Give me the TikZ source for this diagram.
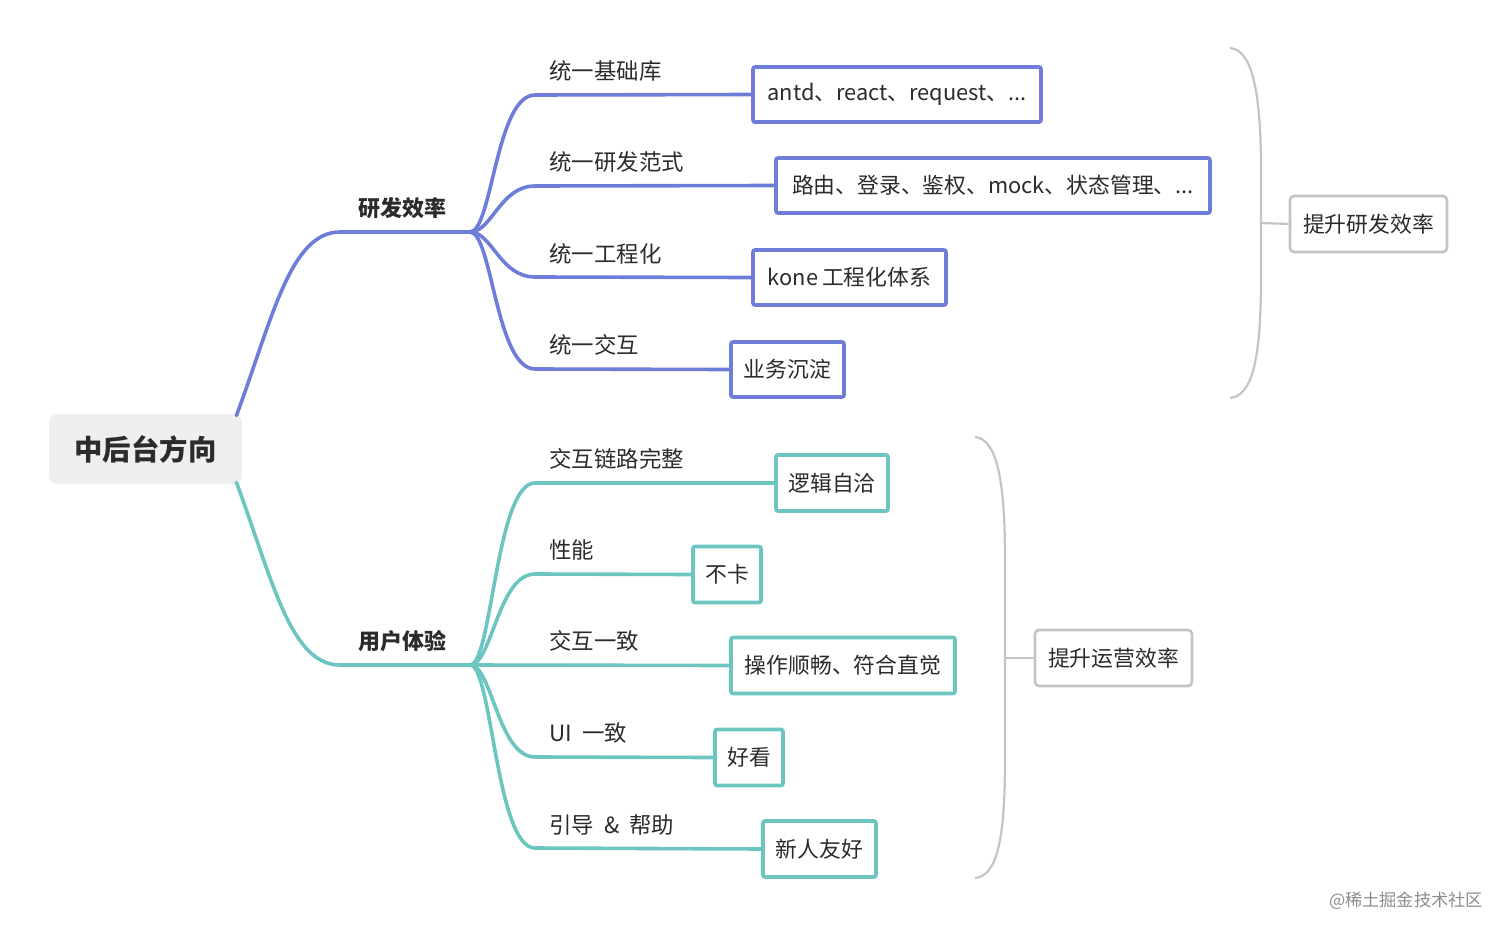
\documentclass[tikz,border=0pt]{standalone}
\usepackage{fontspec}
\setmainfont{Noto Sans CJK SC}
\definecolor{bluec}{HTML}{6F7DDA}
\definecolor{tealc}{HTML}{6CC5C0}
\definecolor{brk}{HTML}{C4C4C4}
\definecolor{rootfill}{HTML}{EFEFEF}
\definecolor{txt}{HTML}{2B2B2B}
\tikzset{
  bline/.style={draw=bluec, line width=1.8pt, line cap=round},
  tline/.style={draw=tealc, line width=1.8pt, line cap=round},
  bbox/.style={draw=bluec, line width=1.8pt, fill=white, rounded corners=1pt, inner sep=0pt, minimum height=27.5pt, font=\fontsize{10.9pt}{12pt}\selectfont, text=txt},
  tbox/.style={draw=tealc, line width=1.8pt, fill=white, rounded corners=1pt, inner sep=0pt, minimum height=28pt, font=\fontsize{10.9pt}{12pt}\selectfont, text=txt},
  gbox/.style={draw=brk, line width=1.3pt, fill=white, rounded corners=2pt, inner sep=0pt, minimum height=28pt, minimum width=78.5pt, font=\fontsize{10.9pt}{12pt}\selectfont, text=txt},
  lbl/.style={anchor=west, inner sep=0pt, font=\fontsize{11.2pt}{12pt}\selectfont, text=txt},
  brlbl/.style={inner sep=0pt, font=\fontsize{11pt}{12pt}\selectfont\bfseries, text=txt},
  brkline/.style={draw=brk, line width=1.1pt},
}
\begin{document}
\begin{tikzpicture}[x=0.5pt, y=-0.5pt]
\useasboundingbox (0,0) rectangle (1512,937);
% root
\node[fill=rootfill, rounded corners=4pt, minimum width=96.5pt, minimum height=35pt, inner sep=0pt, font=\fontsize{14.2pt}{16pt}\selectfont\bfseries, text=txt] (root) at (145.5,449) {中后台方向};
% hubs
\coordinate (hubA) at (470,232);
\coordinate (hubB) at (470,665);
\node[brlbl] (labA) at (402,208) {研发效率};
\node[brlbl] (labB) at (402,641) {用户体验};
\draw[bline] ([xshift=-3pt,yshift=-1pt]root.north east) .. controls (272,320) and (290,232) .. (340,232) -- (hubA);
\draw[tline] ([xshift=-3pt,yshift=1pt]root.south east) .. controls (272,578) and (290,665) .. (340,665) -- (hubB);
% blue children
\node[bbox, minimum width=144pt] (b1) at (897,94.5) {antd、react、request、...};
\node[bbox, minimum width=217pt] (b2) at (993,185.5) {路由、登录、鉴权、mock、状态管理、...};
\node[bbox, minimum width=96.5pt] (b3) at (849.5,277.5) {kone\hspace{2pt}工程化体系};
\node[bbox, minimum width=56.5pt] (b4) at (787.5,369.5) {业务沉淀};
\node[lbl] (lb1) at (549,71) {统一基础库};
\node[lbl] (lb2) at (549,162) {统一研发范式};
\node[lbl] (lb3) at (549,254) {统一工程化};
\node[lbl] (lb4) at (549,345) {统一交互};
\draw[bline] (hubA) .. controls (492,232) and (496,95) .. (535,95) -- (b1.west);
\draw[bline] (hubA) .. controls (492,232) and (500,186) .. (535,186) -- (b2.west);
\draw[bline] (hubA) .. controls (492,232) and (500,277) .. (535,277) -- (b3.west);
\draw[bline] (hubA) .. controls (492,232) and (496,369) .. (535,369) -- (b4.west);
% teal children
\node[tbox, minimum width=56pt] (u1) at (832,483) {逻辑自洽};
\node[tbox, minimum width=34pt] (u2) at (727,574.5) {不卡};
\node[tbox, minimum width=112pt] (u3) at (843,665.5) {操作顺畅、符合直觉};
\node[tbox, minimum width=34pt] (u4) at (749,757.5) {好看};
\node[tbox, minimum width=56.5pt] (u5) at (819.5,849) {新人友好};
\node[lbl] (lu1) at (549,459) {交互链路完整};
\node[lbl] (lu2) at (549,550) {性能};
\node[lbl] (lu3) at (549,641) {交互一致};
\node[lbl] (lu4) at (549,733) {UI\hspace{5pt}一致};
\node[lbl] (lu5) at (549,825) {引导\hspace{5pt}\&\hspace{5pt}帮助};
\draw[tline] (hubB) .. controls (492,665) and (496,483) .. (535,483) -- (u1.west);
\draw[tline] (hubB) .. controls (492,665) and (498,574) .. (535,574) -- (u2.west);
\draw[tline] (hubB) -- (u3.west);
\draw[tline] (hubB) .. controls (492,665) and (498,757) .. (535,757) -- (u4.west);
\draw[tline] (hubB) .. controls (492,665) and (496,848) .. (535,848) -- (u5.west);
% brackets
\node[gbox] (g1) at (1368.5,224) {提升研发效率};
\node[gbox] (g2) at (1113.5,658) {提升运营效率};
\coordinate (k1) at (1261,223);
\coordinate (k2) at (1005,658);
\draw[brkline] (1230,48) .. controls (1252,50) and (1260,90) .. (1261,160) -- (k1) -- (1261,290) .. controls (1260,360) and (1252,396) .. (1230,398);
\draw[brkline] (k1) -- (g1.west);
\draw[brkline] (975,437) .. controls (997,439) and (1005,480) .. (1005,560) -- (k2) -- (1005,760) .. controls (1005,840) and (997,876) .. (975,878);
\draw[brkline] (k2) -- (g2.west);
% watermark
\node[inner sep=0pt, font=\fontsize{8.6pt}{10pt}\selectfont, text=black!45] (wm) at (1406,901) {@稀土掘金技术社区};
\end{tikzpicture}
\end{document}
